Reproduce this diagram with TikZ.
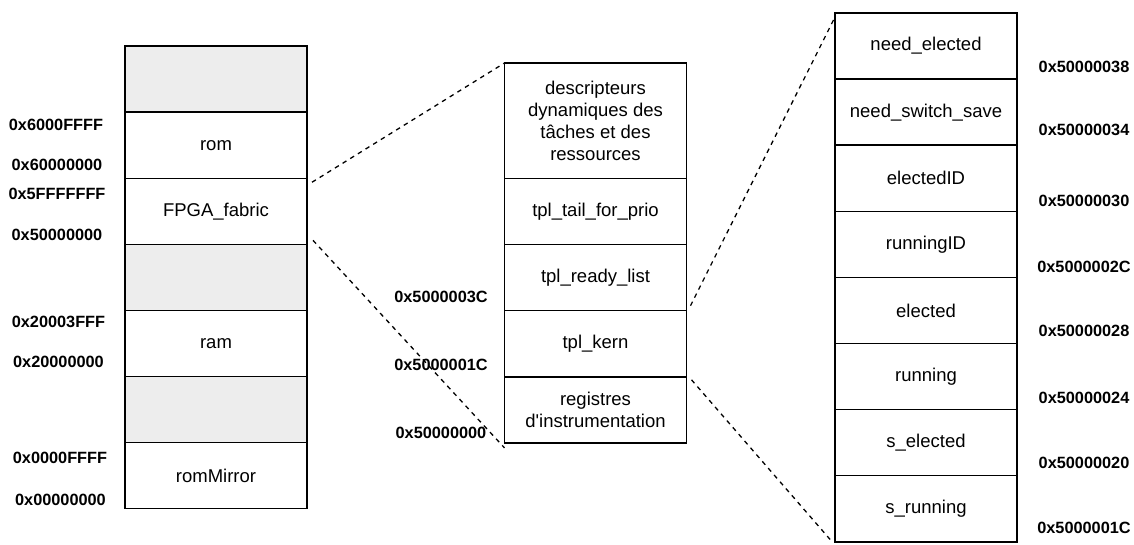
\documentclass[tikz,border=0pt]{standalone}
\usepackage{fontspec}
\setmainfont{Liberation Sans}
\begin{document}
\begin{tikzpicture}[x=1pt,y=-1pt,
  cell/.style={draw=black, line width=1.4pt, minimum width=182pt, minimum height=66.1pt,
    inner sep=0pt, outer sep=0pt, align=center, font=\fontsize{18.5}{22}\selectfont},
  gap/.style={cell, fill=gray!14},
  addr/.style={font=\bfseries\fontsize{16.3}{19}\selectfont, inner sep=0pt},
  zoomline/.style={draw=black, line width=1.3pt, dash pattern=on 4.5pt off 4.5pt}]
\useasboundingbox (0,0) rectangle (1134,545);

% global memory map
\node[gap]  (g1)  at (216,79.1)  {};
\node[cell] (rom) at (216,145.2) {rom};
\node[cell] (fpga) at (216,211.3) {FPGA\_fabric};
\node[gap]  (g2)  at (216,277.4) {};
\node[cell] (ram) at (216,343.5) {ram};
\node[gap]  (g3)  at (216,409.6) {};
\node[cell] (rmir) at (216,475.7) {romMirror};

\node[addr] (a1) at (56,125) {0x6000FFFF};
\node[addr] (a2) at (57,165) {0x60000000};
\node[addr] (a3) at (57,194) {0x5FFFFFFF};
\node[addr] (a4) at (57,235) {0x50000000};
\node[addr] (a5) at (58.5,322) {0x20003FFF};
\node[addr] (a6) at (58.5,362) {0x20000000};
\node[addr] (a7) at (60,458) {0x0000FFFF};
\node[addr] (a8) at (60.5,500) {0x00000000};

% FPGA fabric detail
\node[cell, minimum height=115.5pt] (desc) at (595.5,120.75)
  {descripteurs\\dynamiques des\\tâches et des\\ressources};
\node[cell] (tail)  at (595.5,211.55) {tpl\_tail\_for\_prio};
\node[cell] (ready) at (595.5,277.65) {tpl\_ready\_list};
\node[cell] (kern)  at (595.5,343.75) {tpl\_kern};
\node[cell] (instr) at (595.5,409.85) {registres\\d\textquotesingle instrumentation};

\node[addr] (b1) at (441,297) {0x5000003C};
\node[addr] (b2) at (441,365) {0x5000001C};
\node[addr] (b3) at (441,433) {0x50000000};

% ready list detail
\node[cell] (r1) at (926,46.05)  {need\_elected};
\node[cell] (r2) at (926,112.15) {need\_switch\_save};
\node[cell] (r3) at (926,178.25) {electedID};
\node[cell] (r4) at (926,244.35) {runningID};
\node[cell] (r5) at (926,310.45) {elected};
\node[cell] (r6) at (926,376.55) {running};
\node[cell] (r7) at (926,442.65) {s\_elected};
\node[cell] (r8) at (926,508.75) {s\_running};

\node[addr] (c1) at (1084,67)  {0x50000038};
\node[addr] (c2) at (1084,130) {0x50000034};
\node[addr] (c3) at (1084,201) {0x50000030};
\node[addr] (c4) at (1084,267) {0x5000002C};
\node[addr] (c5) at (1084,331) {0x50000028};
\node[addr] (c6) at (1084,398) {0x50000024};
\node[addr] (c7) at (1084,463) {0x50000020};
\node[addr] (c8) at (1084,528) {0x5000001C};

% zoom lines
\draw[zoomline] ([xshift=5pt,yshift=-4pt]fpga.north east) -- (desc.north west);
\draw[zoomline] ([xshift=6pt,yshift=4pt]fpga.south east) -- ([yshift=-5pt]instr.south west);
\draw[zoomline] ([xshift=4pt,yshift=5pt]ready.south east) -- ([yshift=-4pt]r1.north west);
\draw[zoomline] ([xshift=5pt,yshift=-3pt]instr.north east) -- ([xshift=-2pt,yshift=-1pt]r8.south west);
\end{tikzpicture}
\end{document}
